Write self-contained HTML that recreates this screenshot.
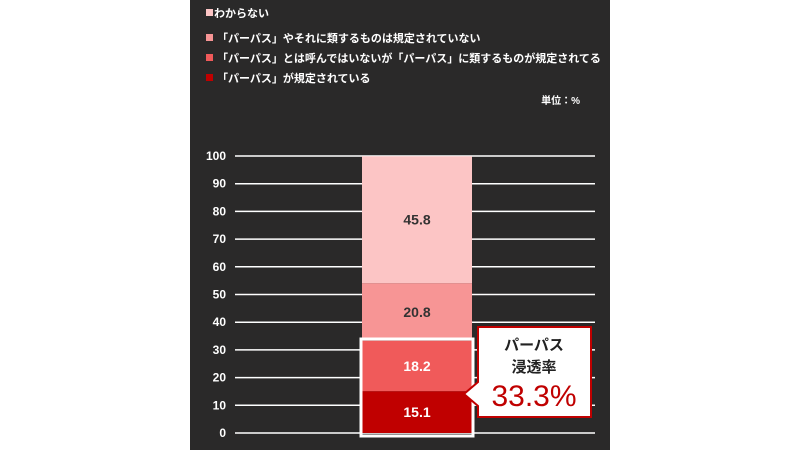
<!DOCTYPE html>
<html><head><meta charset="utf-8"><style>
body{margin:0;width:800px;height:450px;background:#fff;overflow:hidden;font-family:"Liberation Sans","Noto Sans CJK JP",sans-serif}
</style></head><body>
<svg width="800" height="450">
<rect x="190" y="0" width="420" height="450" fill="#2a2929"/>
<g id="legend" font-size="11" font-weight="bold" fill="#fff"></g>
<text x="580" y="104" font-size="10" font-weight="bold" fill="#fff" text-anchor="end">単位：%</text>
<g id="grid"></g>
<g id="bars"></g>
<rect x="361" y="339" width="112" height="97" fill="none" stroke="#fff" stroke-width="3"/>
<g>
<path d="M478,327 H591 V417 H478 V406 L464,394 L478,382 Z" fill="#fff" stroke="#c00000" stroke-width="2"/>
<text x="534" y="350" font-size="15" font-weight="bold" fill="#222" text-anchor="middle">パーパス</text>
<text x="534" y="372" font-size="15" font-weight="bold" fill="#222" text-anchor="middle">浸透率</text>
<text x="534" y="406" font-size="30" fill="#c00000" text-anchor="middle">33.3%</text>
</g>
</svg>
<script>
const ticks=[0,10,20,30,40,50,60,70,80,90,100];
const categories=["「パーパス」が規定されている","「パーパス」とは呼んではいないが「パーパス」に類するものが規定されてる","「パーパス」やそれに類するものは規定されていない","わからない"];
const values=[15.1,18.2,20.8,45.8];
const colors=["#c00000","#f05a5a","#f79595","#fcc5c5"];
const NS="http://www.w3.org/2000/svg";
const y=v=>433-v*2.77;
function mk(t,a,p){const e=document.createElementNS(NS,t);for(const k in a)e.setAttribute(k,a[k]);p.appendChild(e);return e;}
const grid=document.getElementById('grid');
ticks.forEach(t=>{
 const l=mk('line',{x1:235,x2:595,y1:y(t),y2:y(t),stroke:'#fff','stroke-width':1.5},grid);
 
 
 const tx=mk('text',{x:226,y:y(t)+4,'font-size':12,'font-weight':'bold',fill:'#fff','text-anchor':'end'},grid);
 tx.textContent=t;
 
 
});
const bars=document.getElementById('bars');
let cum=0;
values.forEach((v,i)=>{
 const r=mk('rect',{x:362,y:y(cum+v),width:110,height:v*2.77,fill:colors[i]},bars);
 
 
 const t=mk('text',{x:417,y:y(cum+v/2)+5,'font-size':14,'font-weight':'bold',fill:i<2?'#fff':'#333','text-anchor':'middle'},bars);
 t.textContent=v.toFixed(1);
 
 
 cum+=v;
});
const lg=document.getElementById('legend');
const ly=[82,62,42,17];
categories.forEach((c,i)=>{
 const s=mk('rect',{x:206,y:ly[i]-8,width:7,height:7,fill:colors[i]},lg);
 
 
 const t=mk('text',{x:i==3?214:217,y:ly[i]},lg);
 t.textContent=c;
 
 
});
</script>
</body></html>
